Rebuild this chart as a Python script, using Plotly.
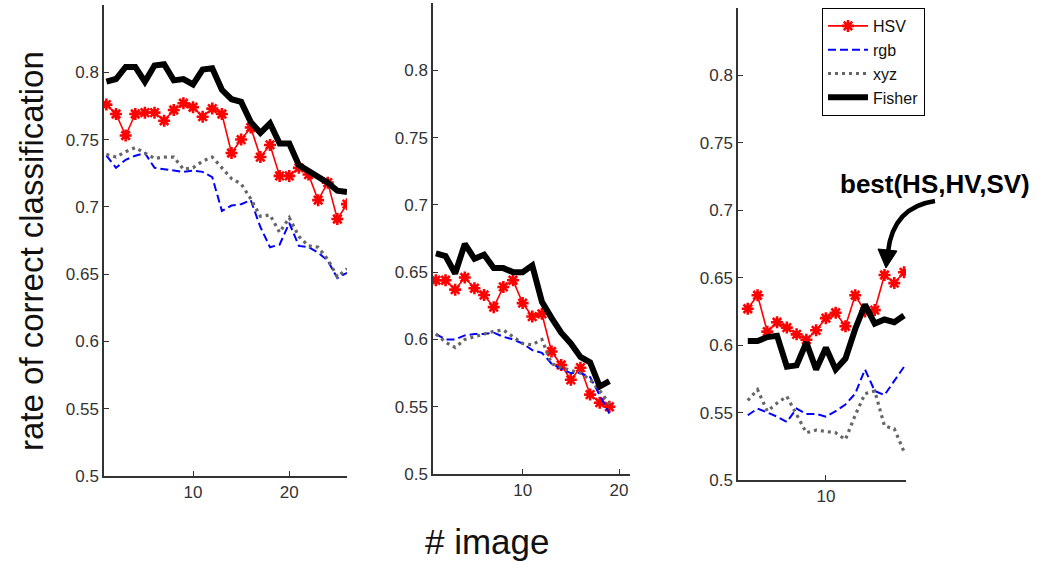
import plotly.graph_objects as go

# ---------------- data ----------------
x1 = list(range(1, 27))
hsv1 = [0.776, 0.769, 0.753, 0.769, 0.770, 0.770, 0.764, 0.772, 0.777, 0.774, 0.767, 0.773, 0.769,
        0.740, 0.750, 0.759, 0.737, 0.746, 0.723, 0.723, 0.729, 0.724, 0.705, 0.718, 0.691, 0.702]
rgb1 = [0.738, 0.729, 0.735, 0.738, 0.740, 0.729, 0.728, 0.727, 0.726, 0.727, 0.726, 0.722, 0.697,
        0.701, 0.702, 0.705, 0.685, 0.670, 0.672, 0.688, 0.671, 0.670, 0.666, 0.660, 0.647, 0.651]
xyz1 = [0.739, 0.737, 0.741, 0.744, 0.740, 0.736, 0.737, 0.737, 0.728, 0.729, 0.734, 0.737, 0.729,
        0.721, 0.717, 0.706, 0.693, 0.694, 0.681, 0.692, 0.678, 0.671, 0.670, 0.661, 0.648, 0.654]
fis1 = [0.793, 0.795, 0.804, 0.804, 0.793, 0.805, 0.806, 0.794, 0.795, 0.791, 0.802, 0.803, 0.787,
        0.780, 0.778, 0.763, 0.755, 0.762, 0.747, 0.747, 0.731, 0.727, 0.723, 0.718, 0.712, 0.711]

x2 = list(range(1, 20))
hsv2 = [0.644, 0.644, 0.637, 0.646, 0.638, 0.633, 0.624, 0.639, 0.644, 0.627, 0.617, 0.619, 0.591,
        0.581, 0.570, 0.579, 0.559, 0.553, 0.550]
rgb2 = [0.604, 0.600, 0.600, 0.603, 0.604, 0.604, 0.605, 0.602, 0.600, 0.597, 0.592, 0.590, 0.582,
        0.578, 0.575, 0.575, 0.572, 0.558, 0.545]
xyz2 = [0.604, 0.598, 0.594, 0.600, 0.602, 0.604, 0.606, 0.607, 0.602, 0.597, 0.596, 0.600, 0.582,
        0.579, 0.577, 0.575, 0.570, 0.562, 0.552]
fis2 = [0.664, 0.662, 0.649, 0.671, 0.660, 0.663, 0.653, 0.653, 0.650, 0.650, 0.655, 0.628, 0.616,
        0.605, 0.597, 0.587, 0.583, 0.565, 0.569]

x3 = list(range(2, 19))
hsv3 = [0.627, 0.637, 0.610, 0.617, 0.613, 0.608, 0.604, 0.611, 0.620, 0.624, 0.614, 0.637, 0.625,
        0.626, 0.652, 0.646, 0.654]
rgb3 = [0.548, 0.553, 0.550, 0.547, 0.543, 0.553, 0.549, 0.549, 0.547, 0.551, 0.556, 0.564, 0.582,
        0.566, 0.563, 0.574, 0.584]
xyz3 = [0.559, 0.567, 0.551, 0.557, 0.562, 0.549, 0.535, 0.537, 0.536, 0.535, 0.530, 0.548, 0.564,
        0.566, 0.540, 0.538, 0.521]
fis3 = [0.603, 0.603, 0.606, 0.607, 0.584, 0.585, 0.602, 0.582, 0.598, 0.582, 0.590, 0.612, 0.630,
        0.616, 0.619, 0.617, 0.622]

series_names = ["HSV", "rgb", "xyz", "Fisher"]
y_tickvals = [0.5, 0.55, 0.6, 0.65, 0.7, 0.75, 0.8]
y_ticktext = ["0.5", "0.55", "0.6", "0.65", "0.7", "0.75", "0.8"]
annot_text = "best(HS,HV,SV)"

# ---------------- figure ----------------
W, H = 1050, 561
FONT = "Liberation Sans, Arial, sans-serif"


def px(x):
    return x / W


def py(y):
    return 1 - y / H


styles = {
    "HSV": dict(mode="lines+markers", line=dict(color="#ff0000", width=1.6),
                marker=dict(symbol="asterisk-open", size=10, color="#ff0000",
                            line=dict(color="#ff0000", width=2.6))),
    "rgb": dict(mode="lines", line=dict(color="#0000ff", width=2, dash="8px,4px")),
    "xyz": dict(mode="lines", line=dict(color="#666666", width=3.2, dash="3px,4px")),
    "Fisher": dict(mode="lines", line=dict(color="#000000", width=6)),
}

fig = go.Figure()
panels = [
    (x1, [hsv1, rgb1, xyz1, fis1], "x", "y"),
    (x2, [hsv2, rgb2, xyz2, fis2], "x2", "y2"),
    (x3, [hsv3, rgb3, xyz3, fis3], "x3", "y3"),
]
for pi, (xs, ys, xa, ya) in enumerate(panels):
    for name, yv in zip(series_names, ys):
        fig.add_trace(go.Scatter(x=xs, y=yv, name=name, xaxis=xa, yaxis=ya,
                                 showlegend=(pi == 0), **styles[name]))

axis_common = dict(showline=True, linecolor="#333333", linewidth=1.5, ticks="inside", ticklen=5,
                   tickcolor="#333333", showgrid=False, zeroline=False, automargin=False,
                   tickfont=dict(family=FONT, size=17, color="#333333"))

fig.update_layout(
    template="none",
    width=W, height=H, margin=dict(l=0, r=0, t=0, b=0, pad=0, autoexpand=False),
    paper_bgcolor="white", plot_bgcolor="white",
    xaxis=dict(domain=[px(104), px(347)], range=[0.75, 26.0], tickvals=[10, 20], anchor="y", **axis_common),
    yaxis=dict(domain=[py(476), py(5)], range=[0.5, 0.85], tickvals=y_tickvals, ticktext=y_ticktext,
               anchor="x", **axis_common),
    xaxis2=dict(domain=[px(433), px(630)], range=[0.7, 21.14], tickvals=[10, 20], anchor="y2", **axis_common),
    yaxis2=dict(domain=[py(474), py(3)], range=[0.5, 0.85], tickvals=y_tickvals, ticktext=y_ticktext,
                anchor="x2", **axis_common),
    xaxis3=dict(domain=[px(738), px(906)], range=[1.0, 18.2], tickvals=[10], anchor="y3", **axis_common),
    yaxis3=dict(domain=[py(480), py(8)], range=[0.5, 0.85], tickvals=y_tickvals, ticktext=y_ticktext,
                anchor="x3", **axis_common),
    legend=dict(x=px(822), y=py(8), xanchor="left", yanchor="top", bgcolor="white",
                bordercolor="#000000", borderwidth=1, font=dict(family=FONT, size=16, color="#111111"),
                tracegroupgap=0, itemwidth=40),
    showlegend=True,
)

# axis titles
fig.add_annotation(text="rate of correct classification", xref="paper", yref="paper",
                   x=px(31), y=py(251), xanchor="center", yanchor="middle", textangle=-90,
                   showarrow=False, font=dict(family=FONT, size=33, color="#111111"))
fig.add_annotation(text="# image", xref="paper", yref="paper", x=px(487), y=py(541),
                   xanchor="center", yanchor="middle",
                   showarrow=False, font=dict(family=FONT, size=35, color="#111111"))

# "best" annotation
fig.add_annotation(text="<b>%s</b>" % annot_text, xref="paper", yref="paper", x=px(935), y=py(184),
                   xanchor="center", yanchor="middle",
                   showarrow=False, font=dict(family=FONT, size=26, color="#000000"))

# curved arrow
x0, y0 = 935, 201
cx, cy = 893, 207
x1e, y1e = 888, 252
fig.add_shape(type="path", xref="paper", yref="paper",
              path="M %f,%f Q %f,%f %f,%f" % (px(x0), py(y0), px(cx), py(cy), px(x1e), py(y1e)),
              line=dict(color="black", width=4.5))
fig.add_shape(type="path", xref="paper", yref="paper",
              path="M %f,%f L %f,%f L %f,%f Z" % (px(878), py(249), px(897), py(251), px(886), py(268)),
              line=dict(color="black", width=1), fillcolor="black")

fig.write_html("out.html")
